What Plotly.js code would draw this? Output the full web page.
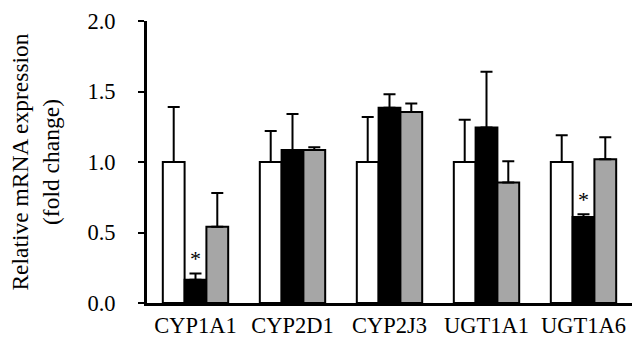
<!DOCTYPE html>
<html>
<head>
<meta charset="utf-8">
<script src="https://cdn.plot.ly/plotly-3.0.1.min.js"></script>
<style>html,body{margin:0;padding:0;background:#fff;}#chart{width:632px;height:339px;}</style>
</head>
<body>
<div id="chart"></div>
<script>
const categories = ['CYP1A1', 'CYP2D1', 'CYP2J3', 'UGT1A1', 'UGT1A6'];
const seriesNames = ['Control', 'Treatment 1', 'Treatment 2'];
const whiteMeans = [1.0, 1.0, 1.0, 1.0, 1.0];
const whiteErrs = [0.39, 0.22, 0.32, 0.30, 0.19];
const blackMeans = [0.165, 1.085, 1.385, 1.245, 0.61];
const blackErrs = [0.045, 0.255, 0.095, 0.395, 0.02];
const grayMeans = [0.54, 1.085, 1.355, 0.855, 1.02];
const grayErrs = [0.24, 0.02, 0.06, 0.15, 0.155];
const blackSignificant = [true, false, false, false, true];

const FONT = 'Liberation Serif, Times New Roman, serif';
const zeros = categories.map(() => 0);

function barTrace(name, means, errs, color) {
  return {
    type: 'bar', name: name, x: categories, y: means,
    marker: {color: color, line: {color: '#000', width: 2}},
    error_y: {type: 'data', array: errs, arrayminus: zeros, symmetric: false,
              visible: true, color: '#000', thickness: 2, width: 6},
    hoverinfo: 'x+y', showlegend: false
  };
}

const traces = [
  barTrace(seriesNames[0], whiteMeans, whiteErrs, '#ffffff'),
  barTrace(seriesNames[1], blackMeans, blackErrs, '#000000'),
  barTrace(seriesNames[2], grayMeans, grayErrs, '#a6a6a6')
];

const annotations = [];
categories.forEach((c, i) => {
  if (blackSignificant[i]) {
    annotations.push({
      x: c, y: blackMeans[i] + blackErrs[i], xref: 'x', yref: 'y',
      text: '*', showarrow: false, xanchor: 'center', yanchor: 'bottom', yshift: 0,
      font: {family: FONT, size: 22, color: '#000'}
    });
  }
});

const layout = {
  width: 632, height: 339,
  margin: {l: 147, r: 0, t: 21, b: 36, pad: 0},
  paper_bgcolor: '#fff', plot_bgcolor: '#fff',
  barmode: 'group', bargap: 0.326, bargroupgap: 0,
  font: {family: FONT, size: 22, color: '#000'},
  xaxis: {
    type: 'category', range: [-0.5, 4.5], showgrid: false, zeroline: false,
    showline: true, linecolor: '#000', linewidth: 3, ticks: '',
    ticklabelstandoff: 0, tickfont: {family: FONT, size: 22.5, color: '#000'}
  },
  yaxis: {
    range: [0, 2], dtick: 0.5, tickformat: '.1f', showgrid: false, zeroline: false,
    showline: true, linecolor: '#000', linewidth: 3, ticks: 'outside', ticklen: 6,
    tickwidth: 2, tickcolor: '#000', ticklabelstandoff: 18,
    tickfont: {family: FONT, size: 22.5, color: '#000'},
    title: {text: 'Relative mRNA expression<br>(fold change)', standoff: 22,
            font: {family: FONT, size: 23.5, color: '#000'}}
  },
  annotations: annotations
};

Plotly.newPlot('chart', traces, layout, {displayModeBar: false, staticPlot: true});
</script>
</body>
</html>
